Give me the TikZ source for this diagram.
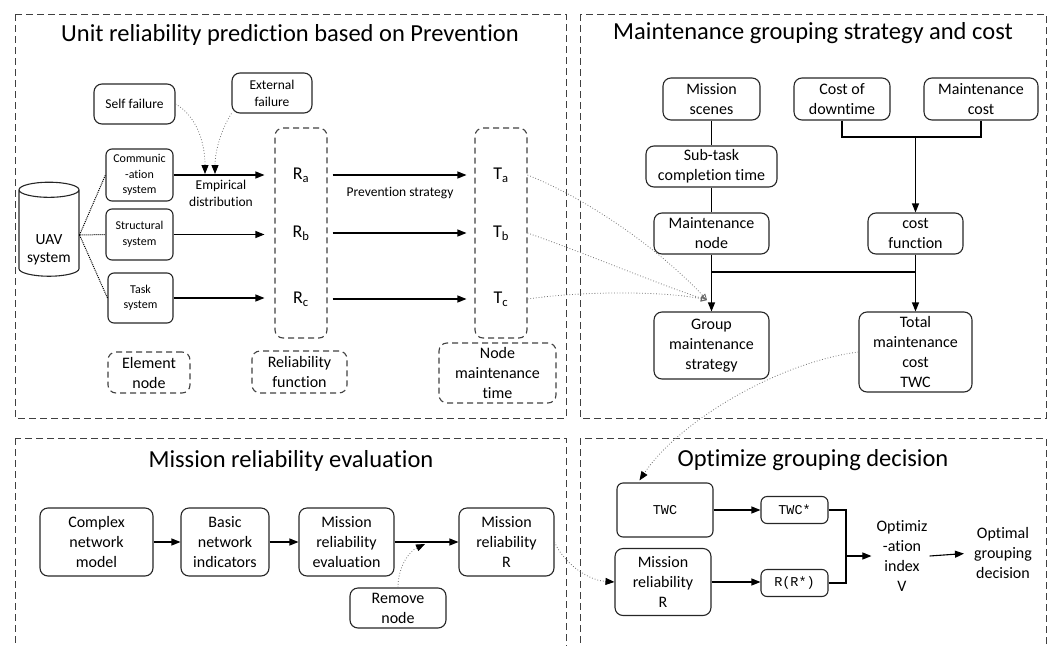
\documentclass[tikz,border=0pt]{standalone}
\usepackage{fontspec}
\setmainfont{Carlito}[Ligatures=NoCommon]
\newfontfamily\codefont{Liberation Mono}
\usetikzlibrary{arrows.meta,calc,shapes.geometric}
\tikzset{
    box/.style={draw=black!85, line width=1.1pt, rounded corners=8pt, inner sep=2pt,
                align=center, font=\fontsize{16}{20}\selectfont},
    smallbox/.style={box, rounded corners=6pt, font=\fontsize{12}{15.5}\selectfont},
    codebox/.style={box, rounded corners=6pt, font=\codefont\fontsize{13.5}{16}\selectfont},
    dashbox/.style={box, draw=black!75, dash pattern=on 6pt off 4pt},
    panel/.style={draw=black!75, line width=1pt, dash pattern=on 7pt off 4pt},
    heading/.style={font=\fontsize{24.5}{28}\selectfont},
    note/.style={font=\fontsize{13.5}{17}\selectfont, align=center},
    plain/.style={font=\fontsize{16}{20}\selectfont, align=center, inner sep=2pt},
    sym/.style={font=\fontsize{18}{20}\selectfont},
    flow/.style={-{Triangle[length=9pt,width=7pt]}, line width=1.1pt},
    link/.style={line width=1.1pt},
    spoke/.style={densely dotted, line width=1pt},
    hint/.style={dotted, line width=0.8pt, black!55},
    hintflow/.style={hint, -{Triangle[length=9pt,width=7pt,black]}},
    tapflow/.style={hint, -{Triangle[open,length=6pt,width=6pt,black!60]}},
}

\begin{document}
\begin{tikzpicture}[x=1pt, y=-1pt]
    \clip (0,0) rectangle (1054,645);

    % four stages
    \draw[panel] (15,14) rectangle (566,418);
    \draw[panel] (580,14) rectangle (1046,418);
    \draw[panel] (15,438) rectangle (566,660);
    \draw[panel] (580,438) rectangle (1046,660);
    \node[heading] (unithead) at (290,35) {Unit reliability prediction based on Prevention};
    \node[heading] (grouphead) at (813,33) {Maintenance grouping strategy and cost};
    \node[heading] (evalhead) at (291,461) {Mission reliability evaluation};
    \node[heading] (opthead) at (813,460) {Optimize grouping decision};

    % unit reliability
    \node[draw=black!85, cylinder, shape border rotate=90, aspect=0.3, line width=1.1pt,
          minimum width=60, minimum height=94, align=center,
          font=\fontsize{15.5}{18.5}\selectfont] (uav) at (49,235) {\phantom{UAV}\\\phantom{system}};
    \node[plain, font=\fontsize{15.5}{18.5}\selectfont] (uavtext) at (49,250) {UAV\\system};
    \node[smallbox, minimum width=67, minimum height=52] (comm) at (139.5,175) {Communic\\-ation\\system};
    \node[smallbox, minimum width=67, minimum height=51] (struct) at (139.5,234.5) {Structural\\system};
    \node[smallbox, minimum width=65, minimum height=50] (task) at (140.5,298) {Task\\system};
    \node[box, note, minimum width=81, minimum height=40] (selff) at (134.5,104) {Self failure};
    \node[box, note, minimum width=80, minimum height=40] (extf) at (272,93) {External\\failure};
    \node[note] (emp) at (221,193) {Empirical\\distribution};
    \node[note] (prev) at (400,193) {Prevention strategy};

    \node[dashbox, minimum width=52, minimum height=210] (rbox) at (301,233) {};
    \node[dashbox, minimum width=52, minimum height=210] (tbox) at (501,233) {};
    \node[sym] (ra) at (301,175) {R\textsubscript{a}};
    \node[sym] (rb) at (301,233) {R\textsubscript{b}};
    \node[sym] (rc) at (301,299) {R\textsubscript{c}};
    \node[sym] (ta) at (501,175) {T\textsubscript{a}};
    \node[sym] (tb) at (501,233) {T\textsubscript{b}};
    \node[sym] (tc) at (501,299) {T\textsubscript{c}};

    \node[dashbox, minimum width=82, minimum height=41] (elem) at (149,372.5) {Element\\node};
    \node[dashbox, minimum width=95, minimum height=42] (relf) at (299.5,372) {Reliability\\function};
    \node[dashbox, minimum width=117, minimum height=60] (nmt) at (497.5,373) {Node\\maintenance\\time};

    \draw[spoke] (uav.east) -- (comm.west);
    \draw[spoke] (uav.east) -- (struct.west);
    \draw[spoke] (uav.east) -- (task.west);
    \draw[flow, shorten >=10pt] (comm.east) -- (comm.east -| rbox.west);
    \draw[flow, shorten >=10pt] (struct.east) -- (struct.east -| rbox.west);
    \draw[flow, shorten >=10pt] (task.east) -- (task.east -| rbox.west);
    \coordinate (selfin) at (205,174);
    \coordinate (extin) at (215,174);
    \draw[hintflow] (selff.east) .. controls (195,115) and (205,140) .. (selfin);
    \draw[hintflow] (extf.south west) .. controls (222,128) and (215,150) .. (extin);
    \foreach \r/\t in {ra/ta, rb/tb, rc/tc}
        \draw[flow, shorten <=5pt, shorten >=8pt] (rbox.east |- \r) -- (tbox.west |- \t);

    % grouping and cost
    \node[box, minimum width=97, minimum height=42] (scenes) at (711.5,99) {Mission\\scenes};
    \node[box, minimum width=96, minimum height=42] (downt) at (842,99) {Cost of\\downtime};
    \node[box, minimum width=114, minimum height=42] (mcost) at (981,99) {Maintenance\\cost};
    \node[box, minimum width=131, minimum height=41] (subtask) at (711.5,166.5) {Sub-task\\completion time};
    \node[box, minimum width=115, minimum height=41] (mnode) at (711.5,233.5) {Maintenance\\node};
    \node[box, minimum width=95, minimum height=41] (costf) at (915.5,233.5) {cost\\function};
    \node[box, minimum width=115, minimum height=67] (group) at (711.5,345.5) {Group\\maintenance\\strategy};
    \node[box, minimum width=113, minimum height=80] (twc) at (915.5,352) {Total\\maintenance\\cost\\TWC};

    \coordinate (cjoin) at (915.5,137);
    \coordinate (mjoin) at (711.5,272);
    \coordinate (tjoin) at (915.5,272);
    \draw[link] (scenes) -- (subtask);
    \draw[link] (subtask) -- (mnode);
    \draw[flow] (mnode) -- (group);
    \draw[link] (downt.south) |- (cjoin) -| (mcost.south);
    \draw[flow] (cjoin) -- (costf.north);
    \draw[flow] (costf) -- (twc);
    \draw[link] (mjoin) -- (tjoin);

    \coordinate (groupin) at (707,300);
    \draw[tapflow] (tbox.east |- ta) .. controls (590,200) and (660,250) .. (groupin);
    \draw[tapflow] (tbox.east |- tb) .. controls (590,255) and (660,285) .. (groupin);
    \draw[tapflow] (tbox.east |- tc) .. controls (590,290) and (670,292) .. (groupin);

    % reliability evaluation
    \node[box, minimum width=113, minimum height=68] (cnm) at (96.5,542) {Complex\\network\\model};
    \node[box, minimum width=88, minimum height=68] (bni) at (225,542) {Basic\\network\\indicators};
    \node[box, minimum width=95, minimum height=68] (mre) at (346.5,542) {Mission\\reliability\\evaluation};
    \node[box, minimum width=95, minimum height=68] (mrr) at (506.5,542) {Mission\\reliability\\R};
    \node[box, minimum width=96, minimum height=40] (remove) at (398,608) {Remove\\node};
    \draw[flow] (cnm) -- (bni);
    \draw[flow] (bni) -- (mre);
    \draw[flow] (mre) -- (mrr);
    \coordinate (dropin) at (425,544);
    \draw[hintflow] (remove.north) .. controls (398,568) and (408,552) .. (dropin);

    % grouping decision
    \node[codebox, minimum width=96, minimum height=54] (twcin) at (665,510) {TWC};
    \node[box, minimum width=96, minimum height=67] (mrin) at (663,582) {Mission\\reliability\\R};
    \node[codebox, minimum width=67, minimum height=27] (twcs) at (794.5,510) {TWC*};
    \node[codebox, minimum width=67, minimum height=27] (rrs) at (794.5,583) {R(R*)};
    \node[plain] (optidx) at (902,556) {Optimiz\\-ation\\index\\V};
    \node[plain] (optdec) at (1003,553) {Optimal\\grouping\\decision};

    \coordinate (merge) at (846,556);
    \draw[flow] (twcin) -- (twcs);
    \draw[flow] (mrin.east) -- (mrin.east -| rrs.west);
    \draw[link] (twcs.east) -| (merge);
    \draw[link] (rrs.east) -| (merge);
    \draw[flow, shorten >=3pt] (merge) -- (optidx.west);
    \draw[flow, shorten >=8pt] (optidx.east) -- (optdec.west);

    \draw[hintflow] (twc.west) .. controls (780,362) and (680,420) .. ([xshift=23pt,yshift=2pt]twcin.north west);
    \draw[hintflow] (mrr.east) .. controls (562,560) and (585,580) .. (mrin.west);
\end{tikzpicture}
\end{document}
